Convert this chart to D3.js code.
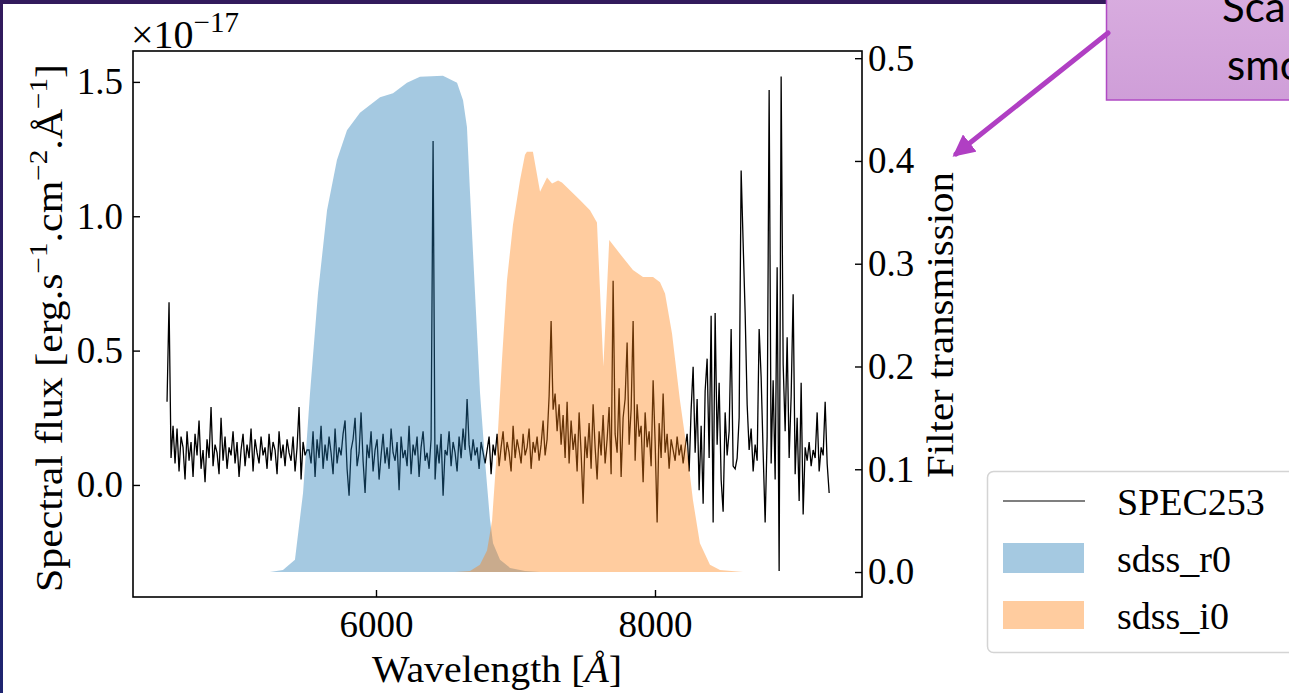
<!DOCTYPE html>
<html><head><meta charset="utf-8">
<script src="https://cdn.jsdelivr.net/npm/d3@7"></script>
<style>body{margin:0;background:#fff;overflow:hidden;} svg{display:block;}</style>
</head><body>
<svg id="c" width="1289" height="693"></svg>
<script>
// ---------------- DATA ----------------
const fluxStart = 4502, fluxStep = 14.34; // wavelength sampling grid (Å)
const flux = [
 0.31,0.68,0.10,0.22,0.08,0.21,0.05,0.18,0.14,0.02,0.20,0.09,0.16,0.03,0.19,0.11,0.24,0.06,0.13,0.01,
 0.17,0.10,0.29,0.07,0.15,0.12,0.04,0.25,0.09,0.18,0.06,0.14,0.11,0.20,0.08,0.16,0.03,0.13,0.19,0.07,
 0.15,0.10,0.21,0.05,0.17,0.12,0.08,0.18,0.11,0.14,0.06,0.19,0.09,0.16,0.13,0.04,0.20,0.10,0.15,0.07,
 0.17,0.12,0.09,0.18,0.05,0.14,0.29,0.02,0.16,0.11,0.13,0.13,0.08,0.20,0.03,0.17,0.10,0.22,0.06,0.15,
 0.09,0.18,0.12,0.04,0.21,0.08,0.14,0.11,0.19,0.24,0.06,-0.04,0.13,0.17,0.25,0.07,0.12,0.27,0.09,-0.03,
 0.15,0.10,0.20,0.05,0.13,0.17,0.02,0.11,0.19,0.08,0.14,0.06,0.21,0.12,0.09,0.16,-0.02,0.18,0.10,0.13,
 0.07,0.22,0.04,0.15,0.11,0.18,0.03,0.14,0.20,0.09,0.12,0.06,0.17,1.28,0.02,0.15,0.08,0.19,-0.04,0.13,
 0.11,0.20,0.07,0.16,0.12,0.05,0.18,0.10,0.21,0.13,0.32,0.15,0.09,0.17,0.11,0.14,0.06,0.16,0.12,0.08,
 0.13,0.18,0.04,0.15,0.11,0.19,0.07,0.14,0.20,0.09,0.16,0.12,0.05,0.22,0.10,0.17,0.13,0.08,0.19,0.11,
 0.14,0.21,0.06,0.16,0.12,0.18,0.09,0.15,0.24,0.11,0.17,0.33,0.61,0.28,0.34,0.20,0.30,0.15,0.26,0.10,
 0.31,0.08,0.24,0.13,0.19,0.05,0.27,0.12,-0.07,0.18,0.10,0.23,0.06,0.30,0.14,0.02,0.20,0.11,0.26,0.08,
 0.17,0.29,0.04,0.76,0.19,0.12,0.36,0.03,0.25,0.32,0.53,0.15,0.28,0.61,0.09,0.30,0.18,0.22,0.01,0.27,
 0.14,0.20,0.07,0.39,0.16,-0.14,0.23,0.10,0.34,0.12,0.19,0.06,0.17,0.13,0.09,0.18,0.11,0.15,0.08,0.14,
 0.19,0.05,0.28,0.44,0.12,0.32,-0.02,0.22,-0.07,0.35,0.47,0.10,0.63,-0.14,0.64,0.15,0.38,0.02,-0.10,0.27,
 0.11,0.20,0.58,0.07,0.06,0.10,0.25,1.17,0.90,0.64,0.30,0.13,0.21,0.05,0.15,0.09,0.58,0.40,0.12,-0.14,
 0.18,1.47,0.08,0.39,0.02,0.81,-0.32,1.52,0.45,0.20,0.55,0.10,0.33,0.71,0.04,0.25,-0.06,0.38,-0.11,0.14,
 0.09,0.16,0.07,0.13,0.10,0.27,0.05,0.14,0.11,0.31,0.08,-0.03
];
const rWave  = [5240,5333,5419,5477,5527,5584,5649,5720,5792,5885,6029,6122,6222,6315,6480,6581,6624,6652,6674,6710,6746,6781,6817,6839,6889,6961,7068,7176];
const rTrans = [0,0.002,0.012,0.077,0.174,0.271,0.352,0.401,0.430,0.447,0.462,0.466,0.476,0.482,0.483,0.476,0.459,0.433,0.369,0.271,0.174,0.109,0.051,0.028,0.012,0.004,0.001,0];
const iWave  = [6566,6674,6745,6796,6832,6867,6903,6939,6982,7032,7068,7082,7125,7176,7226,7262,7305,7333,7462,7534,7584,7630,7672,7770,7842,7914,7986,8036,8072,8122,8179,8229,8272,8322,8394,8466,8631];
const iTrans = [0,0.001,0.007,0.021,0.050,0.119,0.206,0.284,0.338,0.381,0.406,0.409,0.409,0.370,0.384,0.378,0.381,0.379,0.362,0.352,0.340,0.200,0.323,0.306,0.294,0.287,0.287,0.282,0.271,0.232,0.167,0.119,0.070,0.028,0.007,0.002,0];
const xTicks = [6000, 8000];
const yLeftTicks = [0.0, 0.5, 1.0, 1.5];
const yRightTicks = [0.0, 0.1, 0.2, 0.3, 0.4, 0.5];
const legendLabels = ["SPEC253", "sdss_r0", "sdss_i0"];
const calloutLines = ["Sca", "smo"];

// ---------------- LAYOUT ----------------
const svg = d3.select("#c");
const L = 133, T = 51, R = 862, B = 597;
const x = d3.scaleLinear().domain([4258, 9484]).range([L, R]);
const yL = d3.scaleLinear().domain([-0.417, 1.615]).range([B, T]);
const yR = d3.scaleLinear().domain([-0.0243, 0.507]).range([B, T]);
const serif = "'Liberation Serif', 'Times New Roman', serif";
const FS = 37;

const defs = svg.append("defs");
const lg = defs.append("linearGradient").attr("id","leftStrip").attr("x1",0).attr("y1",0).attr("x2",0).attr("y2",1);
lg.append("stop").attr("offset","0%").attr("stop-color","#321a5c");
lg.append("stop").attr("offset","100%").attr("stop-color","#1e2470");
const cg = defs.append("linearGradient").attr("id","callout").attr("x1",0).attr("y1",0).attr("x2",0).attr("y2",1);
cg.append("stop").attr("offset","0%").attr("stop-color","#d8acdf");
cg.append("stop").attr("offset","100%").attr("stop-color","#cf9ed8");
defs.append("clipPath").attr("id","plotClip").append("rect").attr("x",L).attr("y",T).attr("width",R-L).attr("height",B-T);
const mk = defs.append("marker").attr("id","arrowHead").attr("viewBox","0 0 10 10").attr("refX",8).attr("refY",5)
  .attr("markerWidth",4.4).attr("markerHeight",4.4).attr("orient","auto-start-reverse").attr("markerUnits","strokeWidth");
mk.append("path").attr("d","M0,0 L10,5 L0,10 z").attr("fill","#b03fc3");

// slide frame strips
svg.append("rect").attr("x",0).attr("y",0).attr("width",1106).attr("height",4).attr("fill","#321a5c");
svg.append("rect").attr("x",0).attr("y",0).attr("width",3).attr("height",693).attr("fill","url(#leftStrip)");

// ---------------- PLOT ----------------
const g = svg.append("g").attr("clip-path","url(#plotClip)");
const specLine = d3.line().x((d,i)=>x(fluxStart + i*fluxStep)).y(d=>yL(d));
g.append("path").datum(flux).attr("d", specLine).attr("fill","none").attr("stroke","#000").attr("stroke-width",1.3);

const area = d3.area().x(d=>x(d[0])).y0(yR(0)).y1(d=>yR(d[1]));
g.append("path").datum(rWave.map((w,i)=>[w,rTrans[i]])).attr("d",area).attr("fill","#1f77b4").attr("fill-opacity",0.4);
g.append("path").datum(iWave.map((w,i)=>[w,iTrans[i]])).attr("d",area).attr("fill","#ff7f0e").attr("fill-opacity",0.4);

// frame
svg.append("rect").attr("x",L).attr("y",T).attr("width",R-L).attr("height",B-T).attr("fill","none").attr("stroke","#000").attr("stroke-width",1.6);

// axes (ticks inward)
const axB = svg.append("g").attr("transform",`translate(0,${B})`)
  .call(d3.axisBottom(x).tickValues(xTicks).tickSize(-7).tickPadding(14).tickFormat(d3.format("d")));
const axL = svg.append("g").attr("transform",`translate(${L},0)`)
  .call(d3.axisLeft(yL).tickValues(yLeftTicks).tickSize(-7).tickPadding(10).tickFormat(d3.format(".1f")));
const axR = svg.append("g").attr("transform",`translate(${R},0)`)
  .call(d3.axisRight(yR).tickValues(yRightTicks).tickSize(-7).tickPadding(6).tickFormat(d3.format(".1f")));
[axB,axL,axR].forEach(a=>{
  a.select(".domain").remove();
  a.selectAll(".tick line").attr("stroke","#000").attr("stroke-width",1.4);
  a.selectAll(".tick text").attr("font-family",serif).attr("font-size",FS).attr("fill","#000");
});
axB.selectAll(".tick text").attr("dy","0.71em");

// rich text helper (superscripts shift baseline, next part shifts back)
function rich(sel, parts){
  const supSize = FS*0.7, rise = FS*0.4;
  let raised = false;
  parts.forEach(p=>{
    const ts = sel.append("tspan").text(p.t);
    if(p.sup){ ts.attr("dy", -rise).attr("font-size", supSize); raised = true; }
    else { if(raised){ ts.attr("dy", rise); raised = false; } if(p.it) ts.attr("font-style","italic"); }
  });
}

// offset text
const off = svg.append("text").attr("x",131).attr("y",48).attr("font-family",serif).attr("font-size",40).attr("fill","#000");
off.append("tspan").text("\u00d710");
off.append("tspan").attr("dy",-16).attr("font-size",29).text("\u221217");

// x label
const xl = svg.append("text").attr("x",372).attr("y",682).attr("font-family",serif).attr("font-size",FS).attr("fill","#000")
  .attr("textLength",250).attr("lengthAdjust","spacingAndGlyphs");
rich(xl,[{t:"Wavelength ["},{t:"\u00c5",it:true},{t:"]"}]);

// y label left
const yl = svg.append("text").attr("transform","translate(62,592) rotate(-90)").attr("font-family",serif).attr("font-size",FS).attr("fill","#000")
  .attr("textLength",528).attr("lengthAdjust","spacingAndGlyphs");
rich(yl,[{t:"Spectral flux [erg.s"},{t:"\u22121",sup:true},{t:".cm"},{t:"\u22122",sup:true},{t:".\u00c5"},{t:"\u22121",sup:true},{t:"]"}]);

// y label right
svg.append("text").attr("transform","translate(953,478) rotate(-90)").attr("font-family",serif).attr("font-size",FS).attr("fill","#000")
  .attr("textLength",306).attr("lengthAdjust","spacingAndGlyphs").text("Filter transmission");

// ---------------- LEGEND ----------------
const lgd = svg.append("g");
lgd.append("rect").attr("x",987.5).attr("y",471.5).attr("width",320).attr("height",181).attr("rx",6).attr("fill","#fff").attr("fill-opacity",0.8).attr("stroke","#d4d4d4").attr("stroke-width",1.5);
lgd.append("line").attr("x1",1003).attr("x2",1085).attr("y1",501).attr("y2",501).attr("stroke","#000").attr("stroke-width",1.2);
lgd.append("rect").attr("x",1003).attr("y",543).attr("width",81).attr("height",30).attr("fill","#1f77b4").attr("fill-opacity",0.4);
lgd.append("rect").attr("x",1003).attr("y",601).attr("width",81).attr("height",28).attr("fill","#ff7f0e").attr("fill-opacity",0.4);
const legY = [515, 572, 629];
legendLabels.forEach((t,i)=>{
  lgd.append("text").attr("x",1117).attr("y",legY[i]).attr("font-family",serif).attr("font-size",FS+1).attr("fill","#000").text(t);
});

// ---------------- CALLOUT ----------------
svg.append("rect").attr("x",1106.5).attr("y",-3).attr("width",300).attr("height",103).attr("fill","url(#callout)").attr("stroke","#b04ac4").attr("stroke-width",1.5);
const cy = [22, 80], cx = [1222, 1227];
calloutLines.forEach((t,i)=>{
  svg.append("text").attr("x",cx[i]).attr("y",cy[i]).attr("font-family","Lato, 'Open Sans', sans-serif").attr("font-size",42).attr("fill","#000").text(t);
});
svg.append("line").attr("x1",1108).attr("y1",33).attr("x2",956).attr("y2",154)
  .attr("stroke","#b03fc3").attr("stroke-width",5).attr("stroke-linecap","round").attr("marker-end","url(#arrowHead)");
</script>
</body></html>
